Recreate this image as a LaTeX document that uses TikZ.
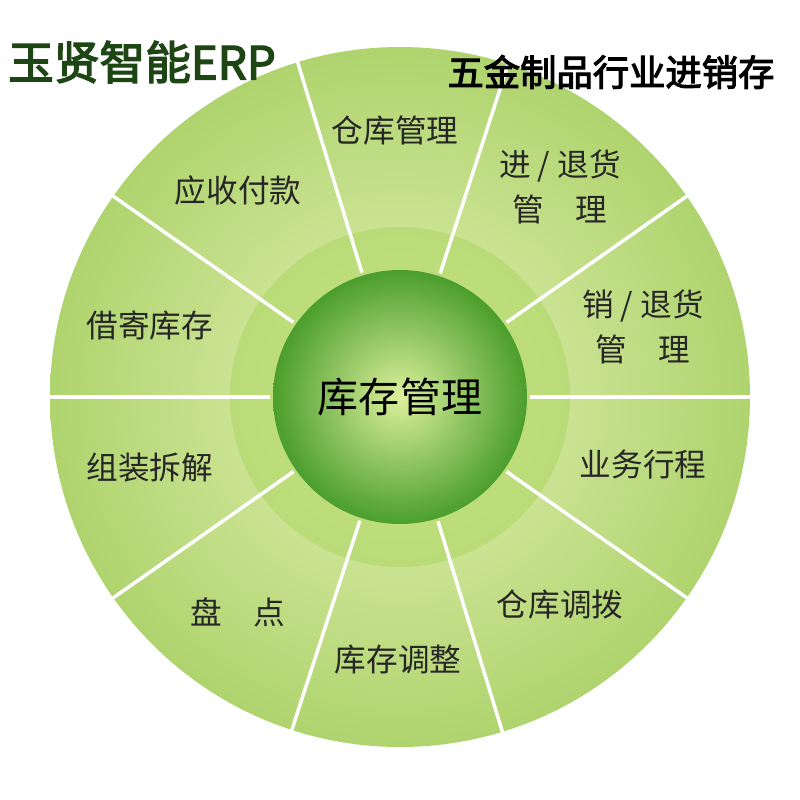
\documentclass[tikz,border=0pt]{standalone}
\usepackage{fontspec}
\usetikzlibrary{calc}
\setmainfont{Noto Sans CJK SC}
\newfontfamily\cjkb[FakeBold=3]{Noto Sans CJK SC}
\begin{document}
\begin{tikzpicture}[x=0.03cm,y=-0.03cm,
 lab/.style={font=\fontsize{27}{38}\selectfont,align=center,text=black!85},
 sep/.style={white,line width=3pt}]
\useasboundingbox (0,0) rectangle (800,800);
\fill[white] (0,0) rectangle (800,800);
\coordinate (c) at (400,397);
\shade[inner color={rgb,255:red,228;green,240;blue,180},outer color={rgb,255:red,175;green,212;blue,110}] (c) circle (350);
\shade[inner color={rgb,255:red,200;green,225;blue,130},outer color={rgb,255:red,185;green,220;blue,120}] (c) circle (170);
\foreach \a in {107,72,35,0,-35,-73,-108,-145,180,145}
  \draw[sep] ($(c)+(-\a:130)$) -- ($(c)+(-\a:352)$);
\shade[inner color={rgb,255:red,220;green,240;blue,155},outer color={rgb,255:red,75;green,158;blue,45},shading=radial] (c) circle (127);
\node[font=\fontsize{35}{40}\selectfont,text=black] (m) at (400,397) {库存管理};
\node[lab] (s1) at (395,130) {仓库管理};
\node[lab] (s2) at (560,187) {进 / 退货\\管\hspace{1em}理};
\node[lab] (s3) at (643,327) {销 / 退货\\管\hspace{1em}理};
\node[lab] (s4) at (643,465) {业务行程};
\node[lab] (s5) at (560,605) {仓库调拨};
\node[lab] (s6) at (398,660) {库存调整};
\node[lab] (s7) at (238,612) {盘\hspace{1em}点};
\node[lab] (s8) at (150,468) {组装拆解};
\node[lab] (s9) at (150,325) {借寄库存};
\node[lab] (s10) at (238,190) {应收付款};
\node[font=\fontsize{39}{44}\selectfont\cjkb,text={rgb,255:red,30;green,70;blue,20},anchor=west] (t1) at (4,62) {玉贤智能ERP};
\node[font=\fontsize{31}{35}\selectfont\cjkb,text=black] (t2) at (611,72) {五金制品行业进销存};
\end{tikzpicture}
\end{document}
